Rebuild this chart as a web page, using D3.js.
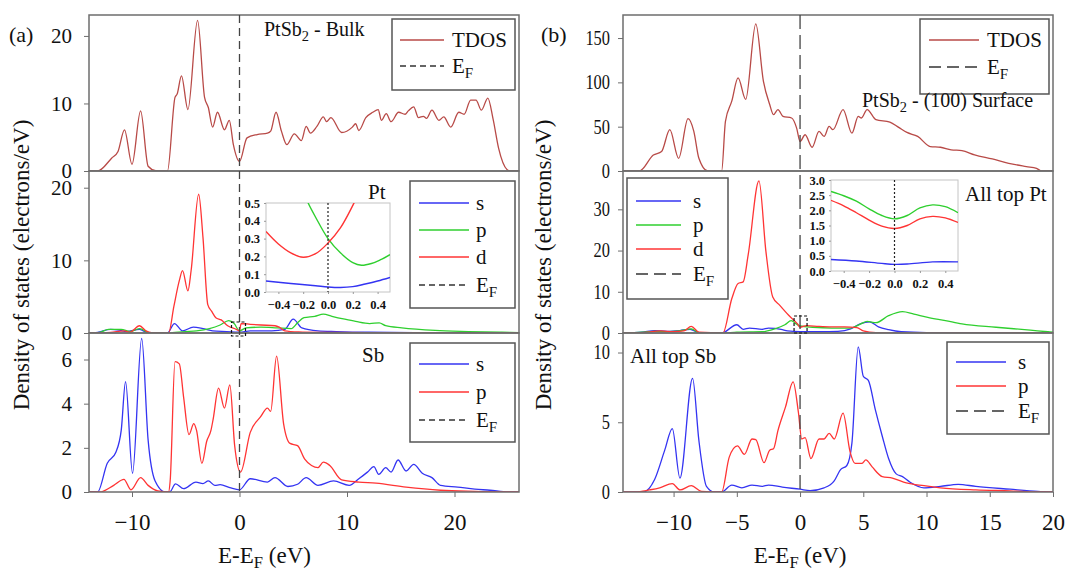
<!DOCTYPE html>
<html>
<head>
<meta charset="utf-8">
<script src="https://cdn.jsdelivr.net/npm/d3@7"></script>
<style>
  body { margin: 0; background: #fff; }
  text { font-family: "Liberation Serif", "Times New Roman", serif; fill: #111; }
</style>
</head>
<body>
<script>
// ---------- data: [E - EF (eV), DOS] ----------
var bulkTDOS = [[-14,0],[-13.2,0],[-11.9,1.9],[-11.3,2.9],[-10.7,6.1],[-10.0,1.0],[-9.2,8.9],[-8.5,0.7],[-7.8,0.05],[-7.2,0],
  [-6.7,0],[-6.0,10.9],[-5.8,11.4],[-5.4,14.1],[-4.8,9.1],[-3.9,22.3],[-3.25,10.9],[-2.9,9.4],[-2.5,6.5],[-2.05,8.7],
  [-1.4,6.1],[-0.95,7.5],[-0.57,3.9],[0,1.4],[0.7,4.9],[1.64,5.4],[2.6,5.6],[2.9,5.9],[3.4,8.7],[3.9,5.9],[4.4,3.9],
  [5.1,5.5],[5.75,4.5],[6.2,6.6],[6.6,5.6],[7.2,6.6],[7.8,8.0],[8.1,7.3],[8.5,7.9],[9.5,5.7],[10.5,6.5],[10.8,7.0],
  [11.1,6.0],[11.75,7.9],[12.4,8.7],[12.9,9.1],[13.2,7.5],[13.65,8.5],[14.1,7.3],[14.8,8.7],[15.4,8.4],[15.7,8.9],
  [16.2,9.5],[16.65,7.9],[17.1,8.1],[17.4,7.8],[17.9,9.0],[18.55,7.5],[19.0,8.0],[19.65,6.5],[20.4,8.7],[20.9,8.4],
  [21.5,10.5],[22.0,10.5],[22.5,9.0],[23.1,10.8],[23.6,7.6],[24.1,3.4],[24.9,0.2],[25.2,0],[26,0]];

var bulkPtS = [[-14,0],[-13.2,0.1],[-12.0,0.5],[-11.2,0.4],[-10.5,0.2],[-9.3,0.5],[-8.5,0],[-6.7,0],[-6.05,1.3],[-5.3,0.3],
  [-4.3,0.8],[-3.4,0.6],[-2.5,0.3],[-1.2,0.2],[0,0.1],[1,0.3],[3,0.3],[4.2,0.5],[5.0,1.9],[5.8,0.7],[7.3,0.3],
  [9,0.2],[12,0.1],[18,0.05],[26,0]];
var bulkPtP = [[-14,0],[-13,0.1],[-12.2,0.5],[-11,0.5],[-10.2,0.2],[-9.3,0.6],[-8.3,0],[-6.7,0],[-6,0.1],[-5,0.2],[-4,0.3],
  [-2.8,0.6],[-1.8,1.1],[-1.0,1.7],[-0.5,1.3],[0,0.3],[0.6,0.7],[2,0.8],[3.5,0.7],[4.8,0.6],[5.4,1.4],[6.0,2.1],
  [7.0,2.3],[7.8,2.6],[8.6,2.3],[9.8,1.9],[10.8,1.6],[12.1,1.3],[13.0,1.4],[13.6,1.0],[15.1,0.7],[18.2,0.35],
  [21.3,0.2],[24.4,0.1],[26,0.05]];
var bulkPtD = [[-14,0],[-12,0.1],[-10.7,0.3],[-10.2,0.1],[-9.3,1.0],[-8.7,0.3],[-8.2,0.05],[-6.6,0],[-6.1,3.7],[-5.6,7.2],
  [-5.3,8.6],[-4.8,5.8],[-4.5,8.6],[-3.8,19.1],[-3.4,13.2],[-2.95,3.9],[-2.6,3.0],[-2.2,2.1],[-1.7,1.8],[-1.1,1.0],
  [-0.3,0.5],[0,0.3],[0.15,1.3],[1.0,1.2],[2.0,1.1],[3.3,1.0],[3.7,0.8],[4.2,0.3],[5.5,0.15],[8,0.08],[12,0.04],[26,0]];

var bulkSbS = [[-14,0],[-13.2,0],[-12.3,1.3],[-11.5,1.8],[-11.0,2.8],[-10.6,5.0],[-9.95,0.85],[-9.1,6.95],[-8.5,2.35],
  [-7.85,0.5],[-6.9,0],[-6.5,0],[-5.95,0.37],[-5.2,0.15],[-4.05,0.45],[-3.4,0.38],[-2.9,0.5],[-2.3,0.3],[-1.8,0.33],
  [-0.9,0.2],[0,0.1],[1.0,0.6],[2.6,0.45],[3.3,0.65],[4.5,0.25],[5.4,0.35],[6.2,0.65],[7.3,0.3],[8.75,0.5],[10.2,0.3],
  [11.1,0.6],[11.9,0.9],[12.5,1.15],[12.95,0.8],[13.6,1.1],[14.1,0.9],[14.75,1.45],[15.5,0.95],[16.2,1.25],[17.0,0.85],
  [17.9,0.65],[18.7,0.3],[20.3,0.22],[21.9,0.13],[23.3,0.08],[25,0],[26,0]];
var bulkSbP = [[-14,0],[-13,0],[-11.7,0.3],[-10.75,0.57],[-10.1,0.1],[-9.2,0.65],[-8.5,0.3],[-7.6,0.05],[-6.6,0],[-6.45,0.5],
  [-6.0,5.9],[-5.6,5.8],[-5.2,4.3],[-4.7,2.6],[-4.25,3.1],[-4.0,2.8],[-3.5,1.3],[-3.05,2.3],[-2.65,2.8],[-2.45,3.3],
  [-1.95,4.7],[-1.4,3.8],[-0.9,4.85],[-0.45,2.1],[0.1,0.9],[1.0,2.7],[1.95,3.4],[2.6,3.8],[2.9,3.65],[3.45,6.15],
  [4.1,3.1],[4.7,2.2],[5.4,2.1],[6.05,1.5],[6.7,1.2],[7.3,1.1],[7.8,1.35],[8.4,1.2],[9.5,0.55],[11.1,0.45],[12.7,0.4],
  [15.5,0.22],[18.7,0.08],[21.9,0.03],[26,0]];

var surfTDOS = [[-14,0],[-12.7,0],[-11.6,18],[-10.95,22],[-10.3,46.6],[-9.6,14.3],[-8.86,59],[-8.4,44.7],[-8.0,14.3],[-7.3,0],
  [-6.2,0],[-5.9,56],[-5.4,78.8],[-4.9,105],[-4.3,80.7],[-3.5,166],[-2.9,101.5],[-2.4,75],[-2.1,63.6],[-1.75,69.3],
  [-1.35,61.7],[-0.67,59.8],[-0.27,48.4],[0,33.3],[0.4,40.9],[0.95,26.8],[1.5,44.7],[1.9,39],[2.3,50.3],[2.6,46.6],
  [3.4,69.3],[4.1,42.7],[4.6,61.7],[4.85,59.8],[5.3,69.3],[6.0,58],[7.1,55.2],[7.8,49.2],[8.45,43.5],[9.3,39],
  [10.3,27.6],[11.1,26.8],[11.95,23.9],[12.8,23],[13.8,18.2],[15.2,13.6],[16.5,8.7],[17.9,4.9],[18.7,2.9],[19.1,0],[20,0]];

var surfPtS = [[-14,0],[-12.5,0.2],[-11.5,0.6],[-10.5,0.4],[-9.5,0.6],[-8.7,0.9],[-8.0,0.1],[-6.2,0],[-5.0,2.0],[-4.5,0.9],
  [-4.0,1.2],[-3.0,0.9],[-2.5,1.2],[-1.5,0.9],[-1.0,0.5],[0,0.3],[1.5,0.3],[3.0,0.4],[4.0,1.0],[4.8,2.3],[5.5,2.7],
  [6.2,1.5],[7.0,0.8],[8.0,0.3],[10,0.1],[15,0.05],[20,0]];
var surfPtP = [[-14,0],[-12.5,0.2],[-11.5,0.4],[-10.5,0.3],[-9.5,0.5],[-8.6,1.0],[-8.0,0.1],[-6.2,0],[-5.0,0.2],[-3.0,0.3],
  [-2.0,1.0],[-1.2,2.0],[-0.7,3.0],[-0.3,2.2],[0,1.7],[1.0,1.4],[2.5,1.2],[4.0,1.2],[4.8,2.2],[5.3,2.8],[6.0,2.5],
  [7.0,4.2],[8.1,5.2],[9.0,4.6],[10.1,3.8],[11.5,3.0],[12.8,2.2],[15.5,1.4],[18.2,0.7],[19.6,0.3],[20,0.2]];
var surfPtD = [[-14,0],[-12.5,0.1],[-11.0,0.5],[-10.0,0.3],[-9.2,0.5],[-8.6,1.6],[-8.0,0.2],[-6.1,0],[-5.4,8.3],[-4.9,12.0],
  [-4.5,12.4],[-4.1,19],[-3.25,36.9],[-2.7,19.8],[-2.16,8.75],[-1.6,6.7],[-0.9,4.3],[-0.2,2.2],[0,1.4],[0.5,1.8],
  [1.5,1.6],[2.5,1.5],[3.5,1.5],[4.5,1.3],[5.0,0.5],[6.0,0.1],[8,0.05],[20,0]];

var surfSbS = [[-14,0],[-12.4,0],[-11.5,0.9],[-10.7,3.0],[-10.1,4.55],[-9.5,1.0],[-8.5,8.15],[-8.0,3.7],[-7.4,0.4],[-6.8,0],
  [-6.2,0],[-5.4,0.5],[-4.6,0.3],[-3.8,0.5],[-3.0,0.4],[-2.5,0.5],[-1.4,0.35],[0,0.2],[0.8,0.1],[1.9,0.3],[2.7,0.8],
  [3.2,1.6],[3.7,1.9],[4.1,3.5],[4.6,10.4],[5.0,8.3],[5.4,8.0],[5.95,5.9],[6.5,4.0],[7.0,2.4],[7.6,1.3],[8.1,1.1],
  [8.7,0.7],[9.8,0.3],[11.1,0.4],[12.5,0.55],[13.9,0.4],[16.6,0.2],[18.8,0.05],[20,0]];
var surfSbP = [[-14,0],[-13,0],[-11.9,0.15],[-11.1,0.3],[-10.1,0.6],[-9.5,0.15],[-8.6,0.45],[-7.8,0.05],[-6.2,0],[-5.6,2.5],
  [-4.95,3.3],[-4.4,2.7],[-3.8,3.8],[-3.5,3.75],[-2.85,2.1],[-2.4,3.0],[-2.1,3.1],[-1.75,4.4],[-1.15,6.1],[-0.55,7.9],
  [-0.13,5.7],[0.13,3.8],[0.4,3.9],[0.86,2.4],[1.5,3.8],[1.9,3.8],[2.3,4.2],[2.7,3.8],[3.4,5.65],[3.95,2.9],
  [4.35,2.05],[4.9,2.05],[5.2,2.3],[5.7,1.8],[6.5,1.1],[7.3,1.0],[8.4,0.65],[9.8,0.45],[11.1,0.3],[13.9,0.15],
  [16.6,0.08],[19.0,0],[20,0]];

// insets: zoom around EF
var insetBulkS = [[-0.5,0.062],[-0.3,0.048],[-0.1,0.035],[0,0.028],[0.1,0.025],[0.2,0.03],[0.3,0.045],[0.4,0.062],[0.5,0.082]];
var insetBulkP = [[-0.22,0.6],[-0.16,0.5],[-0.1,0.42],[0,0.3],[0.1,0.22],[0.2,0.165],[0.27,0.15],[0.35,0.16],[0.42,0.18],[0.5,0.21]];
var insetBulkD = [[-0.5,0.34],[-0.4,0.27],[-0.3,0.22],[-0.2,0.195],[-0.1,0.215],[0,0.275],[0.1,0.36],[0.21,0.5],[0.28,0.6]];
var insetSurfS = [[-0.5,0.38],[-0.3,0.33],[-0.1,0.25],[0,0.22],[0.1,0.23],[0.3,0.3],[0.5,0.3]];
var insetSurfP = [[-0.5,2.62],[-0.4,2.48],[-0.3,2.3],[-0.2,2.05],[-0.1,1.83],[0,1.72],[0.1,1.83],[0.2,2.08],[0.3,2.18],[0.4,2.12],[0.5,1.92]];
var insetSurfD = [[-0.5,2.33],[-0.4,2.15],[-0.3,1.92],[-0.2,1.68],[-0.1,1.48],[0,1.4],[0.1,1.5],[0.2,1.72],[0.3,1.8],[0.4,1.75],[0.5,1.6]];

var leftXTicks = [-10, 0, 10, 20];
var rightXTicks = [-10, -5, 0, 5, 10, 15, 20];
var insetXTicks = [-0.4, -0.2, 0.0, 0.2, 0.4];

var cTdos = "#b84a47", cS = "#3434f2", cP = "#2fcf2f", cD = "#ff3434";
var frameColor = "#6e6e6e";
var serif = "'Liberation Serif', 'Times New Roman', serif";

var svg = d3.select("body").append("svg")
            .attr("width", 1067)
            .attr("height", 571)
            .attr("font-family", serif);

var rowTop = [15, 171, 333], rowBot = [171, 333, 492];

function ef(g) {
  g.append("tspan").text("E");
  g.append("tspan").attr("font-size", "0.72em").attr("dy", 5).text("F");
}

function drawPanel(id, x, row, domain, ticks, series, opts) {
  var y = d3.scaleLinear().domain(domain).range([rowBot[row], rowTop[row]]);
  var g = svg.append("g");
  var r = x.range();

  svg.append("clipPath").attr("id", id)
     .append("rect").attr("x", r[0]).attr("y", rowTop[row])
     .attr("width", r[1] - r[0]).attr("height", rowBot[row] - rowTop[row]);

  var line = d3.line().x(d => x(d[0])).y(d => y(d[1])).curve(d3.curveMonotoneX);
  series.forEach(s => {
    g.append("path").datum(s.data)
     .attr("clip-path", "url(#" + id + ")")
     .attr("fill", "none").attr("stroke", s.color).attr("stroke-width", 1.3)
     .attr("d", line);
  });

  var ya = g.append("g").attr("transform", "translate(" + r[0] + ",0)")
            .call(d3.axisLeft(y).tickValues(ticks).tickSize(5).tickPadding(opts.pad));
  ya.attr("font-family", serif);
  ya.select(".domain").remove();
  ya.selectAll("line").attr("stroke", frameColor);
  ya.selectAll("text").attr("font-size", opts.fs).attr("fill", "#111");
  if (opts.narrow) {
    ya.selectAll("text").attr("textLength", d => String(d).length * 8.2).attr("lengthAdjust", "spacingAndGlyphs");
  }

  if (row === 2) {
    var xa = g.append("g").attr("transform", "translate(0," + rowBot[row] + ")")
              .call(d3.axisBottom(x).tickValues(opts.xticks).tickSize(5).tickPadding(17));
    xa.attr("font-family", serif);
    xa.select(".domain").remove();
    xa.selectAll("line").attr("stroke", frameColor);
    xa.selectAll("text").attr("font-size", 23).attr("fill", "#111");
  }

  g.append("rect").attr("x", r[0]).attr("y", rowTop[row])
   .attr("width", r[1] - r[0]).attr("height", rowBot[row] - rowTop[row])
   .attr("fill", "none").attr("stroke", frameColor).attr("stroke-width", 1.5);
  return y;
}

function legend(box, items, lx1, lx2, tx, dash) {
  svg.append("rect").attr("x", box[0]).attr("y", box[1]).attr("width", box[2]).attr("height", box[3])
     .attr("fill", "#fff").attr("stroke", "#555").attr("stroke-width", 1.5);
  items.forEach(it => {
    svg.append("line").attr("x1", lx1).attr("x2", lx2).attr("y1", it.y).attr("y2", it.y)
       .attr("stroke", it.color).attr("stroke-width", it.ef ? 1.4 : 1.5)
       .attr("stroke-dasharray", it.ef ? dash : null);
    var t = svg.append("text").attr("x", tx).attr("y", it.y + 7).attr("font-size", 21);
    if (it.ef) ef(t); else t.text(it.label);
  });
}

function inset(xr, yr, domain, yticks, series) {
  var x = d3.scaleLinear().domain([-0.5, 0.5]).range(xr);
  var y = d3.scaleLinear().domain(domain).range([yr[1], yr[0]]);
  var id = "clip" + Math.round(xr[0]);
  svg.append("clipPath").attr("id", id).append("rect")
     .attr("x", xr[0]).attr("y", yr[0]).attr("width", xr[1] - xr[0]).attr("height", yr[1] - yr[0]);
  svg.append("rect").attr("x", xr[0]).attr("y", yr[0]).attr("width", xr[1] - xr[0]).attr("height", yr[1] - yr[0])
     .attr("fill", "#fff").attr("stroke", "#c4c4c4").attr("stroke-width", 1);
  var line = d3.line().x(d => x(d[0])).y(d => y(d[1])).curve(d3.curveCatmullRom);
  series.forEach(s => {
    svg.append("path").datum(s.data).attr("clip-path", "url(#" + id + ")")
       .attr("fill", "none").attr("stroke", s.color).attr("stroke-width", 1.4).attr("d", line);
  });
  svg.append("line").attr("x1", x(0)).attr("x2", x(0)).attr("y1", yr[0]).attr("y2", yr[1])
     .attr("stroke", "#222").attr("stroke-width", 1.2).attr("stroke-dasharray", "2,2");
  var ya = svg.append("g").attr("transform", "translate(" + xr[0] + ",0)")
              .call(d3.axisLeft(y).tickValues(yticks).tickSize(2).tickPadding(4).tickFormat(d3.format(".1f")));
  var xa = svg.append("g").attr("transform", "translate(0," + yr[1] + ")")
              .call(d3.axisBottom(x).tickValues(insetXTicks).tickSize(2).tickPadding(6).tickFormat(d3.format(".1f")));
  [ya, xa].forEach(a => {
    a.attr("font-family", serif);
    a.select(".domain").remove();
    a.selectAll("line").attr("stroke", "#999");
    a.selectAll("text").attr("font-size", 12.5).attr("font-weight", "bold").attr("fill", "#333");
  });
}

// ---------- panel (a) ----------
var xa = d3.scaleLinear().domain([-14, 26]).range([89, 519]);
drawPanel("a0", xa, 0, [0, 23.1], [0, 10, 20], [{data: bulkTDOS, color: cTdos}], {pad: 12, fs: 21});
var ya1 = drawPanel("a1", xa, 1, [0, 22.3], [0, 10, 20],
  [{data: bulkPtS, color: cS}, {data: bulkPtP, color: cP}, {data: bulkPtD, color: cD}], {pad: 12, fs: 21});
drawPanel("a2", xa, 2, [0, 7.2], [0, 2, 4, 6],
  [{data: bulkSbS, color: cS}, {data: bulkSbP, color: cD}], {pad: 12, fs: 21, xticks: leftXTicks});

// ---------- panel (b) ----------
var xb = d3.scaleLinear().domain([-14, 20]).range([623, 1053]);
drawPanel("b0", xb, 0, [0, 176], [0, 50, 100, 150], [{data: surfTDOS, color: cTdos}], {pad: 8, fs: 20, narrow: true});
var yb1 = drawPanel("b1", xb, 1, [0, 39.3], [0, 10, 20, 30],
  [{data: surfPtS, color: cS}, {data: surfPtP, color: cP}, {data: surfPtD, color: cD}], {pad: 8, fs: 20, narrow: true});
drawPanel("b2", xb, 2, [0, 11.4], [0, 5, 10],
  [{data: surfSbS, color: cS}, {data: surfSbP, color: cD}], {pad: 8, fs: 20, narrow: true, xticks: rightXTicks});

// Fermi level lines
svg.append("line").attr("x1", xa(0)).attr("x2", xa(0)).attr("y1", rowTop[0]).attr("y2", rowBot[2])
   .attr("stroke", "#444").attr("stroke-width", 1.3).attr("stroke-dasharray", "8,5");
svg.append("line").attr("x1", xb(0)).attr("x2", xb(0)).attr("y1", rowTop[0]).attr("y2", rowBot[2])
   .attr("stroke", "#444").attr("stroke-width", 1.3).attr("stroke-dasharray", "14,6");

// zoom markers at EF
svg.append("rect").attr("x", xa(0) - 8).attr("y", ya1(0) - 11).attr("width", 14).attr("height", 14)
   .attr("fill", "none").attr("stroke", "#111").attr("stroke-width", 1.2).attr("stroke-dasharray", "3,2");
svg.append("rect").attr("x", xb(0) - 6).attr("y", yb1(0) - 17).attr("width", 13).attr("height", 17)
   .attr("fill", "none").attr("stroke", "#111").attr("stroke-width", 1.2).attr("stroke-dasharray", "3,2");

// insets
inset([266, 390], [203, 292], [0, 0.5], [0, 0.1, 0.2, 0.3, 0.4, 0.5],
  [{data: insetBulkS, color: cS}, {data: insetBulkP, color: cP}, {data: insetBulkD, color: cD}]);
inset([831, 958], [180, 271], [0, 3], [0, 0.5, 1, 1.5, 2, 2.5, 3],
  [{data: insetSurfS, color: cS}, {data: insetSurfP, color: cP}, {data: insetSurfD, color: cD}]);

// legends
legend([392, 19, 123, 71], [{label: "TDOS", color: cTdos, y: 40}, {ef: true, color: "#333", y: 66}], 400, 444, 452, "6,4");
legend([410, 181, 105, 127], [{label: "s", color: cS, y: 203}, {label: "p", color: cP, y: 230},
  {label: "d", color: cD, y: 257}, {ef: true, color: "#333", y: 285}], 419, 469, 476, "6,4");
legend([410, 343, 105, 99], [{label: "s", color: cS, y: 364}, {label: "p", color: cD, y: 392},
  {ef: true, color: "#333", y: 420}], 419, 469, 476, "6,4");

legend([920, 19, 129, 75], [{label: "TDOS", color: cTdos, y: 40}, {ef: true, color: "#333", y: 67}], 929, 979, 987, "12,6");
legend([627, 178, 101, 121], [{label: "s", color: cS, y: 201}, {label: "p", color: cP, y: 225},
  {label: "d", color: cD, y: 249}, {ef: true, color: "#333", y: 274}], 636, 681, 693, "12,6");
legend([947, 342, 102, 92], [{label: "s", color: cS, y: 362}, {label: "p", color: cD, y: 386},
  {ef: true, color: "#333", y: 411}], 956, 1006, 1018, "12,6");

// titles
function pt(t, rest) {
  t.append("tspan").text("PtSb");
  t.append("tspan").attr("font-size", "0.72em").attr("dy", 5).text("2");
  t.append("tspan").attr("dy", -5).text(rest);
}
pt(svg.append("text").attr("x", 264).attr("y", 36).attr("font-size", 20), " - Bulk");
pt(svg.append("text").attr("x", 862).attr("y", 107).attr("font-size", 20), " - (100) Surface");
svg.append("text").attr("x", 368).attr("y", 199).attr("font-size", 21).text("Pt");
svg.append("text").attr("x", 362).attr("y", 362).attr("font-size", 21).text("Sb");
svg.append("text").attr("x", 965).attr("y", 201).attr("font-size", 21).text("All top Pt");
svg.append("text").attr("x", 630).attr("y", 363).attr("font-size", 21).text("All top Sb");
svg.append("text").attr("x", 9).attr("y", 42).attr("font-size", 22).text("(a)");
svg.append("text").attr("x", 541).attr("y", 42).attr("font-size", 22).text("(b)");

// axis titles
[[29, 265], [551, 265]].forEach(p => {
  svg.append("text").attr("transform", "translate(" + p[0] + "," + p[1] + ") rotate(-90)")
     .attr("text-anchor", "middle").attr("font-size", 23).text("Density of states (electrons/eV)");
});
[xa(0) + 25, xb(0)].forEach(cx => {
  var t = svg.append("text").attr("x", cx).attr("y", 563).attr("text-anchor", "middle").attr("font-size", 23);
  t.append("tspan").text("E-E");
  t.append("tspan").attr("font-size", "0.72em").attr("dy", 5).text("F");
  t.append("tspan").attr("dy", -5).text(" (eV)");
});
</script>
</body>
</html>
